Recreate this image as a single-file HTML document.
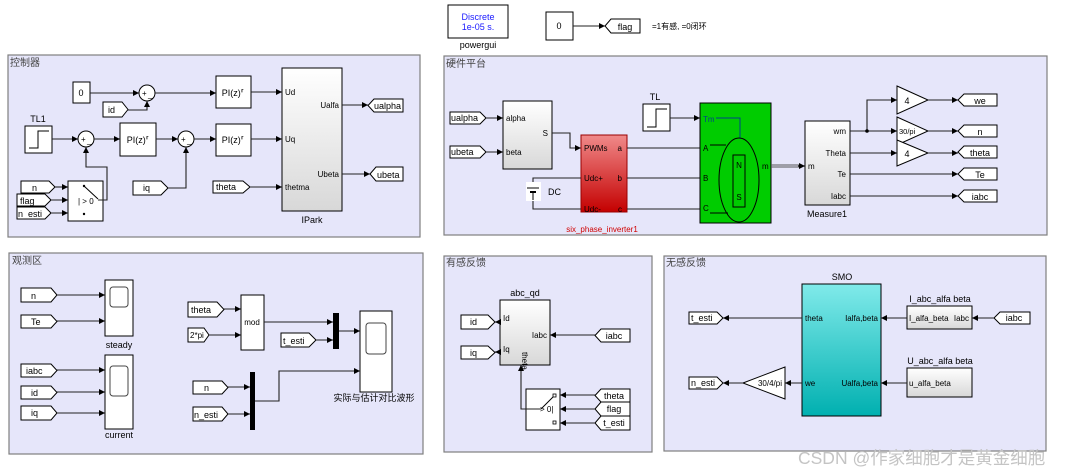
<!DOCTYPE html>
<html><head><meta charset="utf-8"><style>
html,body{margin:0;padding:0;background:#fff;width:1090px;height:472px;overflow:hidden}
svg{display:block;font-family:"Liberation Sans","Noto Sans CJK SC",sans-serif}
.p{fill:#e6e6fa;stroke:#7f7f7f;stroke-width:1.2}
.b{fill:#fff;stroke:#000;stroke-width:1}
.g{fill:url(#gr);stroke:#000;stroke-width:1}
.l{fill:none;stroke:#222;stroke-width:1.1}
.t{font-size:9px;fill:#000}
.pt{font-size:8px;fill:#000}
.tt{font-size:10px;fill:#444;font-family:"Liberation Sans","Noto Sans CJK SC",sans-serif}
.tag{fill:#fff;stroke:#000;stroke-width:1}
</style></head><body>
<svg width="1090" height="472" viewBox="0 0 1090 472">
<defs>
<marker id="a" markerWidth="7" markerHeight="7" refX="6" refY="3" orient="auto" markerUnits="userSpaceOnUse"><path d="M0,0 L6,3 L0,6 z" fill="#000"/></marker>
<linearGradient id="gr" x1="0" y1="0" x2="0" y2="1"><stop offset="0" stop-color="#fff"/><stop offset="1" stop-color="#d8d8d8"/></linearGradient>
<linearGradient id="red" x1="0" y1="0" x2="0" y2="1"><stop offset="0" stop-color="#f08a8a"/><stop offset="1" stop-color="#c40000"/></linearGradient>
<linearGradient id="cy" x1="0" y1="0" x2="0" y2="1"><stop offset="0" stop-color="#80eaea"/><stop offset="1" stop-color="#00b0b0"/></linearGradient>
</defs>

<rect class="p" x="8" y="55" width="412" height="182"/>
<rect class="p" x="444" y="56" width="603" height="179"/>
<rect class="p" x="9" y="253" width="414" height="201"/>
<rect class="p" x="444" y="256" width="208" height="196"/>
<rect class="p" x="664" y="256" width="382" height="195"/>
<text class="tt" x="10" y="66">控制器</text>
<text class="tt" x="446" y="67">硬件平台</text>
<text class="tt" x="12" y="264">观测区</text>
<text class="tt" x="446" y="266">有感反馈</text>
<text class="tt" x="666" y="266">无感反馈</text>

<rect class="b" x="448" y="5" width="60" height="33"/>
<text x="478" y="20" font-size="9" fill="#1a1aff" text-anchor="middle">Discrete</text>
<text x="478" y="30" font-size="9" fill="#1a1aff" text-anchor="middle">1e-05 s.</text>
<text class="t" x="478" y="48" text-anchor="middle">powergui</text>
<rect class="b" x="546" y="12" width="27" height="28"/>
<text class="t" x="559" y="29" text-anchor="middle">0</text>
<line class="l" x1="573" y1="26" x2="605" y2="26" marker-end="url(#a)"/>
<polygon class="tag" points="605,26 611,19 640,19 640,33 611,33"/>
<text class="t" x="625" y="30" text-anchor="middle">flag</text>
<text x="652" y="29" font-size="8" fill="#000">=1有感, =0闭环</text>

<rect class="b" x="73" y="82" width="17" height="21"/><text class="t" x="81" y="96" text-anchor="middle">0</text>
<line class="l" x1="90" y1="93" x2="139" y2="93" marker-end="url(#a)"/>
<circle class="b" cx="147" cy="93" r="8"/><text class="pt" x="142" y="96">+</text><text class="pt" x="148" y="97">_</text>
<polygon class="tag" points="103,102 122,102 128,109.5 122,117 103,117"/><text class="t" x="108" y="113">id</text>
<polyline class="l" points="128,110 147,110 147,101" marker-end="url(#a)"/>
<line class="l" x1="155" y1="93" x2="216" y2="93" marker-end="url(#a)"/>
<rect class="b" x="216" y="76" width="35" height="32"/><text class="t" x="233" y="96" text-anchor="middle">PI(z)⸢</text>
<line class="l" x1="251" y1="92" x2="282" y2="92" marker-end="url(#a)"/>
<text class="t" x="38" y="122" text-anchor="middle">TL1</text>
<rect class="b" x="25" y="126" width="27" height="27"/>
<polyline points="29,148 38,148 38,131 49,131" fill="none" stroke="#000" stroke-width="1"/>
<line class="l" x1="52" y1="139" x2="78" y2="139" marker-end="url(#a)"/>
<circle class="b" cx="86" cy="139" r="8"/><text class="pt" x="81" y="142">+</text><text class="pt" x="87" y="143">_</text>
<line class="l" x1="94" y1="139" x2="120" y2="139" marker-end="url(#a)"/>
<rect class="b" x="120" y="123" width="36" height="33"/><text class="t" x="138" y="143" text-anchor="middle">PI(z)⸢</text>
<line class="l" x1="156" y1="139" x2="178" y2="139" marker-end="url(#a)"/>
<circle class="b" cx="186" cy="139" r="8"/><text class="pt" x="181" y="142">+</text><text class="pt" x="187" y="143">_</text>
<line class="l" x1="194" y1="139" x2="216" y2="139" marker-end="url(#a)"/>
<rect class="b" x="216" y="124" width="35" height="32"/><text class="t" x="233" y="143" text-anchor="middle">PI(z)⸢</text>
<line class="l" x1="251" y1="139" x2="282" y2="139" marker-end="url(#a)"/>
<rect class="b" x="68" y="181" width="35" height="40"/>
<text class="pt" x="78" y="204">| &gt; 0</text>
<line x1="84" y1="186" x2="98" y2="199" stroke="#000"/>
<circle cx="84" cy="186" r="1.2"/><circle cx="84" cy="214" r="1.2"/>
<polyline class="l" points="98,200 107,200 107,167 86,167 86,147" marker-end="url(#a)"/>
<polygon class="tag" points="21,181 49,181 55,187 49,193 21,193"/><text class="t" x="32" y="191">n</text>
<polygon class="tag" points="17,194 45,194 51,200 45,206 17,206"/><text class="t" x="20" y="204">flag</text>
<polygon class="tag" points="17,207 45,207 51,213 45,219 17,219"/><text class="t" x="18" y="217">n_esti</text>
<line class="l" x1="55" y1="187" x2="68" y2="187" marker-end="url(#a)"/>
<line class="l" x1="51" y1="200" x2="68" y2="200" marker-end="url(#a)"/>
<line class="l" x1="51" y1="213" x2="68" y2="213" marker-end="url(#a)"/>
<polygon class="tag" points="133,181 161,181 168,188 161,195 133,195"/><text class="t" x="143" y="191">iq</text>
<polyline class="l" points="168,188 186,188 186,147" marker-end="url(#a)"/>
<polygon class="tag" points="213,181 243,181 250,187 243,193 213,193"/><text class="t" x="216" y="190">theta</text>
<line class="l" x1="250" y1="187" x2="282" y2="187" marker-end="url(#a)"/>
<rect class="g" x="282" y="68" width="60" height="143"/>
<text class="pt" x="285" y="95">Ud</text><text class="pt" x="285" y="142">Uq</text><text class="pt" x="285" y="190">thetma</text>
<text class="pt" x="339" y="108" text-anchor="end">Ualfa</text><text class="pt" x="339" y="177" text-anchor="end">Ubeta</text>
<text class="t" x="312" y="223" text-anchor="middle">IPark</text>
<line class="l" x1="342" y1="105" x2="368" y2="105" marker-end="url(#a)"/>
<polygon class="tag" points="368,105.5 374,99 403,99 403,112 374,112"/><text class="t" x="374" y="109">ualpha</text>
<line class="l" x1="342" y1="174" x2="370" y2="174" marker-end="url(#a)"/>
<polygon class="tag" points="370,174 376,167 403,167 403,181 376,181"/><text class="t" x="377" y="178">ubeta</text>

<polygon class="tag" points="450,112 480,112 486,118 480,124 450,124"/><text class="t" x="451" y="121">ualpha</text>
<polygon class="tag" points="450,146 480,146 486,152 480,158 450,158"/><text class="t" x="451" y="155">ubeta</text>
<line class="l" x1="486" y1="118" x2="503" y2="118" marker-end="url(#a)"/>
<line class="l" x1="486" y1="152" x2="503" y2="152" marker-end="url(#a)"/>
<rect class="g" x="503" y="101" width="49" height="68"/>
<text class="pt" x="506" y="121">alpha</text><text class="pt" x="506" y="155">beta</text><text class="pt" x="548" y="136" text-anchor="end">S</text>
<polyline class="l" points="552,133 570,133 570,148 581,148" marker-end="url(#a)"/>
<rect x="581" y="135" width="46" height="77" fill="url(#red)" stroke="#900"/>
<text class="pt" x="584" y="151">PWMs</text><text class="pt" x="584" y="181">Udc+</text><text class="pt" x="584" y="212">Udc-</text>
<text class="pt" x="622" y="151" text-anchor="end">a</text><text class="pt" x="622" y="181" text-anchor="end">b</text><text class="pt" x="622" y="212" text-anchor="end">c</text>
<text x="602" y="232" font-size="8" fill="#d00000" text-anchor="middle">six_phase_inverter1</text>
<line class="l" x1="627" y1="148" x2="700" y2="148"/><line class="l" x1="627" y1="178" x2="700" y2="178"/><line class="l" x1="627" y1="209" x2="700" y2="209"/>
<polyline class="l" points="533,182 533,178 581,178"/><polyline class="l" points="533,201 533,209 581,209"/>
<rect x="526" y="182" width="15" height="19" fill="#fff"/>
<line x1="527" y1="188" x2="539" y2="188" stroke="#000"/><line x1="530" y1="192" x2="536" y2="192" stroke="#000" stroke-width="2"/>
<line x1="533" y1="192" x2="533" y2="200" stroke="#000"/>
<text class="t" x="548" y="195">DC</text>
<text class="t" x="655" y="100" text-anchor="middle">TL</text>
<rect class="b" x="643" y="104" width="27" height="27"/>
<polyline points="647,127 656,127 656,109 667,109" fill="none" stroke="#000"/>
<line class="l" x1="670" y1="118" x2="700" y2="118" marker-end="url(#a)"/>
<rect x="700" y="103" width="71" height="120" fill="#00cc00" stroke="#000"/>
<text x="703" y="122" font-size="8" fill="#004488">Tm</text>
<polyline points="716,118 740,118 740,138" fill="none" stroke="#004488"/>
<text class="pt" x="703" y="151">A</text><text class="pt" x="703" y="181">B</text><text class="pt" x="703" y="211">C</text>
<line x1="710" y1="145" x2="726" y2="145" stroke="#000"/><line x1="710" y1="213" x2="728" y2="213" stroke="#000"/>
<ellipse cx="739" cy="180" rx="20" ry="42" fill="none" stroke="#000"/>
<rect x="733" y="155" width="12" height="52" fill="none" stroke="#000"/>
<text class="pt" x="739" y="168" text-anchor="middle">N</text><text class="pt" x="739" y="200" text-anchor="middle">S</text>
<text class="pt" x="762" y="169">m</text>
<line x1="771" y1="165" x2="800" y2="165" stroke="#555" stroke-width="1"/><line x1="771" y1="167" x2="800" y2="167" stroke="#555" stroke-width="1"/>
<line class="l" x1="798" y1="166" x2="805" y2="166" marker-end="url(#a)"/>
<rect class="g" x="805" y="121" width="45" height="84"/>
<text class="pt" x="808" y="169">m</text>
<text class="pt" x="846" y="134" text-anchor="end">wm</text><text class="pt" x="846" y="156" text-anchor="end">Theta</text>
<text class="pt" x="846" y="177" text-anchor="end">Te</text><text class="pt" x="846" y="199" text-anchor="end">Iabc</text>
<text class="t" x="827" y="217" text-anchor="middle">Measure1</text>
<line class="l" x1="850" y1="131" x2="897" y2="131" marker-end="url(#a)"/>
<polyline class="l" points="867,131 867,100 897,100" marker-end="url(#a)"/>
<circle cx="867" cy="131" r="1.8"/>
<line class="l" x1="850" y1="153" x2="897" y2="153" marker-end="url(#a)"/>
<polygon class="b" points="897,86 928,100 897,114"/><text class="t" x="907" y="104" text-anchor="middle">4</text>
<polygon class="b" points="897,117 928,131 897,145"/><text x="899" y="134" font-size="7.5">30/pi</text>
<polygon class="b" points="897,140 928,153 897,166"/><text class="t" x="907" y="157" text-anchor="middle">4</text>
<line class="l" x1="928" y1="100" x2="958" y2="100" marker-end="url(#a)"/>
<line class="l" x1="928" y1="131" x2="958" y2="131" marker-end="url(#a)"/>
<line class="l" x1="928" y1="153" x2="958" y2="153" marker-end="url(#a)"/>
<line class="l" x1="850" y1="174" x2="958" y2="174" marker-end="url(#a)"/>
<line class="l" x1="850" y1="196" x2="958" y2="196" marker-end="url(#a)"/>
<polygon class="tag" points="958,100 964,94 997,94 997,106 964,106"/><text class="t" x="980" y="104" text-anchor="middle">we</text>
<polygon class="tag" points="958,131 964,125 997,125 997,137 964,137"/><text class="t" x="980" y="135" text-anchor="middle">n</text>
<polygon class="tag" points="958,152 964,146 997,146 997,158 964,158"/><text class="t" x="980" y="156" text-anchor="middle">theta</text>
<polygon class="tag" points="958,174 964,168 997,168 997,180 964,180"/><text class="t" x="980" y="178" text-anchor="middle">Te</text>
<polygon class="tag" points="958,196 964,190 997,190 997,202 964,202"/><text class="t" x="980" y="200" text-anchor="middle">iabc</text>

<polygon class="tag" points="21,288 51,288 57,295 51,302 21,302"/><text class="t" x="31" y="299">n</text>
<polygon class="tag" points="21,315 51,315 57,321.5 51,328 21,328"/><text class="t" x="31" y="325">Te</text>
<line class="l" x1="57" y1="295" x2="105" y2="295" marker-end="url(#a)"/>
<line class="l" x1="57" y1="321" x2="105" y2="321" marker-end="url(#a)"/>
<rect class="b" x="105" y="280" width="28" height="56"/><rect x="110" y="287" width="18" height="20" rx="3" fill="#fff" stroke="#444"/>
<text class="t" x="119" y="348" text-anchor="middle">steady</text>
<polygon class="tag" points="21,364 51,364 57,370.5 51,377 21,377"/><text class="t" x="26" y="374">iabc</text>
<polygon class="tag" points="21,386 51,386 57,392.5 51,399 21,399"/><text class="t" x="31" y="396">id</text>
<polygon class="tag" points="21,406 51,406 57,413 51,420 21,420"/><text class="t" x="31" y="416">iq</text>
<line class="l" x1="57" y1="370" x2="105" y2="370" marker-end="url(#a)"/>
<line class="l" x1="57" y1="392" x2="105" y2="392" marker-end="url(#a)"/>
<line class="l" x1="57" y1="413" x2="105" y2="413" marker-end="url(#a)"/>
<rect class="b" x="105" y="355" width="28" height="74"/><rect x="110" y="366" width="18" height="30" rx="3" fill="#fff" stroke="#444"/>
<text class="t" x="119" y="438" text-anchor="middle">current</text>
<polygon class="tag" points="188,302 217,302 224,309.5 217,317 188,317"/><text class="t" x="191" y="313">theta</text>
<polygon class="tag" points="188,328 204,328 209,335 204,342 188,342"/><text class="pt" x="190" y="338">2*pi</text>
<line class="l" x1="224" y1="309" x2="241" y2="309" marker-end="url(#a)"/>
<line class="l" x1="209" y1="335" x2="241" y2="335" marker-end="url(#a)"/>
<rect class="b" x="241" y="295" width="23" height="55"/><text class="pt" x="252" y="325" text-anchor="middle">mod</text>
<line class="l" x1="264" y1="322" x2="333" y2="322" marker-end="url(#a)"/>
<polygon class="tag" points="281,333 309,333 316,340 309,347 281,347"/><text class="t" x="283" y="344">t_esti</text>
<line class="l" x1="316" y1="340" x2="333" y2="340" marker-end="url(#a)"/>
<rect x="333" y="313" width="6" height="36" fill="#000"/>
<line class="l" x1="339" y1="331" x2="360" y2="331" marker-end="url(#a)"/>
<rect class="b" x="360" y="311" width="32" height="81"/><rect x="366" y="323" width="20" height="31" rx="3" fill="#fff" stroke="#444"/>
<text x="374" y="401" font-size="9" fill="#000" text-anchor="middle">实际与估计对比波形</text>
<polygon class="tag" points="193,381 222,381 228,387.5 222,394 193,394"/><text class="t" x="204" y="391">n</text>
<polygon class="tag" points="193,407 222,407 228,414 222,421 193,421"/><text class="t" x="194" y="418">n_esti</text>
<line class="l" x1="228" y1="387" x2="250" y2="387" marker-end="url(#a)"/>
<line class="l" x1="228" y1="414" x2="250" y2="414" marker-end="url(#a)"/>
<rect x="250" y="372" width="5" height="58" fill="#000"/>
<polyline class="l" points="255,401 279,401 279,371 360,371" marker-end="url(#a)"/>

<text class="t" x="525" y="296" text-anchor="middle">abc_qd</text>
<rect class="g" x="500" y="300" width="50" height="65"/>
<text class="pt" x="503" y="321">Id</text><text class="pt" x="503" y="352">Iq</text><text class="pt" x="547" y="338" text-anchor="end">Iabc</text>
<text class="pt" x="0" y="0" transform="translate(522,352) rotate(90)">theta</text>
<line class="l" x1="500" y1="322" x2="495" y2="322" marker-end="url(#a)"/>
<line class="l" x1="500" y1="352" x2="495" y2="352" marker-end="url(#a)"/>
<polygon class="tag" points="461,315 488,315 495,322 488,329 461,329"/><text class="t" x="470" y="325">id</text>
<polygon class="tag" points="461,346 488,346 495,352.5 488,359 461,359"/><text class="t" x="470" y="356">iq</text>
<polygon class="tag" points="595,335.5 601,329 630,329 630,342 601,342"/><text class="t" x="614" y="339" text-anchor="middle">iabc</text>
<line class="l" x1="595" y1="335" x2="550" y2="335" marker-end="url(#a)"/>
<rect class="b" x="526" y="389" width="34" height="41"/>
<text class="pt" x="540" y="412">&gt; 0|</text>
<line x1="541" y1="409" x2="554" y2="396" stroke="#000"/>
<rect x="553" y="394" width="3" height="3" fill="#fff" stroke="#000" stroke-width=".8"/>
<rect x="553" y="421" width="3" height="3" fill="#fff" stroke="#000" stroke-width=".8"/>
<polyline class="l" points="541,409 521,409 521,365" marker-end="url(#a)"/>
<polygon class="tag" points="595,395.5 601,389 630,389 630,402 601,402"/><text class="t" x="614" y="399" text-anchor="middle">theta</text>
<polygon class="tag" points="595,409 601,402 630,402 630,416 601,416"/><text class="t" x="614" y="412" text-anchor="middle">flag</text>
<polygon class="tag" points="595,423 601,416 630,416 630,430 601,430"/><text class="t" x="614" y="426" text-anchor="middle">t_esti</text>
<line class="l" x1="595" y1="395" x2="560" y2="395" marker-end="url(#a)"/>
<line class="l" x1="595" y1="409" x2="560" y2="409" marker-end="url(#a)"/>
<line class="l" x1="595" y1="423" x2="560" y2="423" marker-end="url(#a)"/>

<text class="t" x="842" y="280" text-anchor="middle">SMO</text>
<rect x="802" y="284" width="79" height="132" fill="url(#cy)" stroke="#000"/>
<text class="pt" x="805" y="321">theta</text><text class="pt" x="805" y="386">we</text>
<text class="pt" x="878" y="321" text-anchor="end">Ialfa,beta</text><text class="pt" x="878" y="386" text-anchor="end">Ualfa,beta</text>
<line class="l" x1="802" y1="318" x2="723" y2="318" marker-end="url(#a)"/>
<polygon class="tag" points="689,312 717,312 723,318 717,324 689,324"/><text class="t" x="691" y="321">t_esti</text>
<line class="l" x1="802" y1="383" x2="785" y2="383" marker-end="url(#a)"/>
<polygon class="b" points="743,383 785,367 785,399"/><text class="pt" x="782" y="386" text-anchor="end">30/4/pi</text>
<line class="l" x1="743" y1="383" x2="723" y2="383" marker-end="url(#a)"/>
<polygon class="tag" points="689,377 717,377 723,383 717,389 689,389"/><text class="t" x="691" y="386">n_esti</text>
<text class="t" x="940" y="302" text-anchor="middle">I_abc_alfa beta</text>
<rect class="g" x="907" y="306" width="65" height="23"/>
<text class="pt" x="909" y="321">I_alfa_beta</text><text class="pt" x="969" y="321" text-anchor="end">Iabc</text>
<line class="l" x1="907" y1="318" x2="881" y2="318" marker-end="url(#a)"/>
<polygon class="tag" points="994,318 1000,312 1030,312 1030,324 1000,324"/><text class="t" x="1014" y="321" text-anchor="middle">iabc</text>
<line class="l" x1="994" y1="318" x2="972" y2="318" marker-end="url(#a)"/>
<text class="t" x="940" y="364" text-anchor="middle">U_abc_alfa beta</text>
<rect class="g" x="907" y="368" width="65" height="29"/>
<text class="pt" x="909" y="386">u_alfa_beta</text>
<line class="l" x1="907" y1="383" x2="881" y2="383" marker-end="url(#a)"/>

<text x="798" y="464" font-size="17.5" fill="#c4c4c4" font-family="Liberation Sans,'Noto Sans CJK SC',sans-serif">CSDN @作家细胞才是黄金细胞</text>
</svg>
</body></html>
